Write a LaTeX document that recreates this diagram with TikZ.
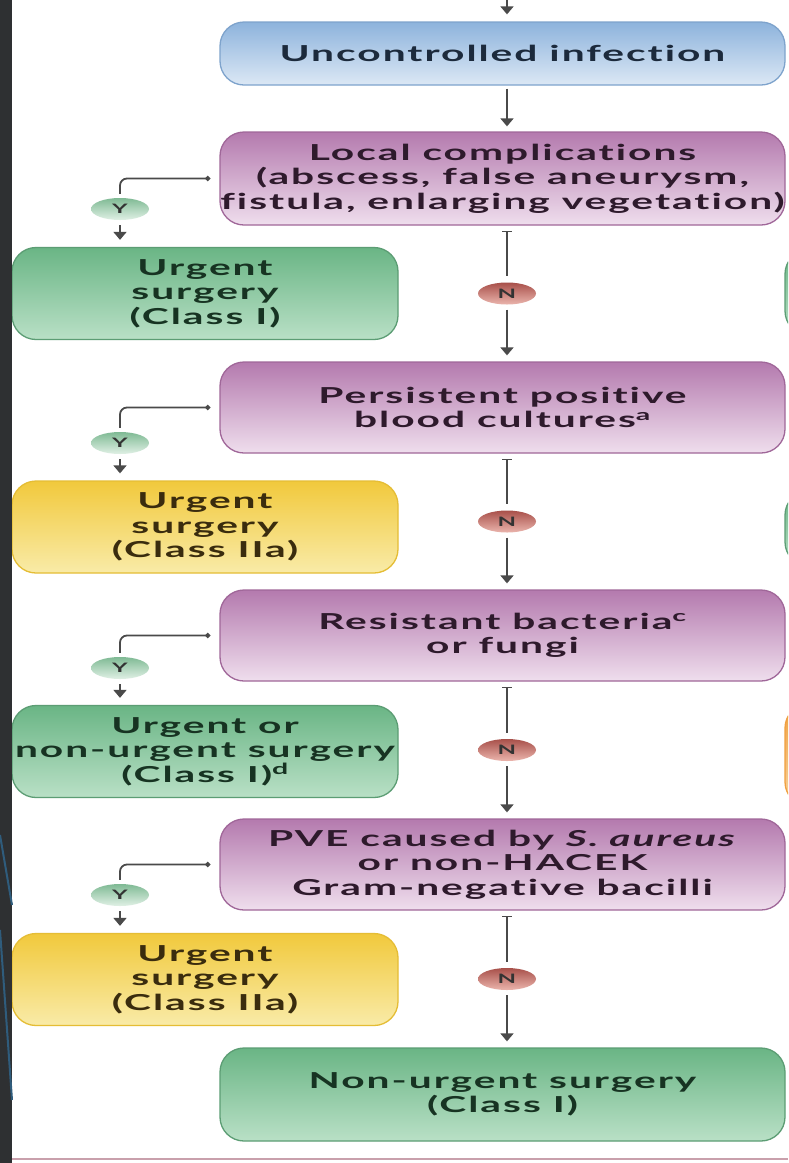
\documentclass[tikz,border=0pt]{standalone}
\usepackage{fontspec}
\setmainfont[FakeStretch=1.85, LetterSpace=9, Ligatures=NoCommon]{Lato}
\usetikzlibrary{arrows.meta,calc,shapes.geometric}

\definecolor{bandgrey}{HTML}{2E3032}
\definecolor{stripeblue}{HTML}{2F5C7C}
\definecolor{linkgrey}{HTML}{4A4A4A}
\definecolor{rulepink}{HTML}{C9A0AC}
% box fills: top, bottom, edge, text
\definecolor{blueT}{HTML}{8DB3DC}\definecolor{blueB}{HTML}{DCE8F5}
\definecolor{blueE}{HTML}{7EA3CC}\definecolor{blueX}{HTML}{1C2A3C}
\definecolor{purT}{HTML}{B47AAE}\definecolor{purB}{HTML}{EFDEED}
\definecolor{purE}{HTML}{A06799}\definecolor{purX}{HTML}{2E1A2C}
\definecolor{grnT}{HTML}{6AB585}\definecolor{grnB}{HTML}{B9E0C6}
\definecolor{grnE}{HTML}{5C9D74}\definecolor{grnX}{HTML}{173322}
\definecolor{yelT}{HTML}{F1C93C}\definecolor{yelB}{HTML}{F9EBA8}
\definecolor{yelE}{HTML}{E5BD35}\definecolor{yelX}{HTML}{3A2C0E}
\definecolor{orgT}{HTML}{F0A040}\definecolor{orgB}{HTML}{F8D4A0}
\definecolor{ynT}{HTML}{7FBA94}\definecolor{ynB}{HTML}{E0F0E5}
\definecolor{noT}{HTML}{A8504A}\definecolor{noB}{HTML}{EBB5AD}

\newcommand{\cardfont}{\fontsize{22}{24.5}\selectfont\bfseries}

\tikzset{
  card/.style={rounded corners=24pt, line width=1.3pt, align=center,
    inner sep=0pt, font=\cardfont},
  rcol/.style={card, minimum width=565pt},
  lcol/.style={card, minimum width=386pt, minimum height=92pt},
  bluefill/.style={top color=blueT, bottom color=blueB, draw=blueE, text=blueX},
  purfill/.style={top color=purT, bottom color=purB, draw=purE, text=purX},
  grnfill/.style={top color=grnT, bottom color=grnB, draw=grnE, text=grnX},
  yelfill/.style={top color=yelT, bottom color=yelB, draw=yelE, text=yelX},
  badge/.style={ellipse, minimum width=58pt, minimum height=22pt, inner sep=0pt,
    font=\fontsize{13}{13}\selectfont\bfseries, text=black!80},
  yesbadge/.style={badge, top color=ynT, bottom color=ynB},
  nobadge/.style={badge, top color=noT, bottom color=noB},
  link/.style={draw=linkgrey, line width=1.8pt},
  tip/.style={-{Triangle[width=13pt,length=8pt]}},
  bartip/.style={{Bar[width=10pt,line width=1.2pt]}-},
}

\begin{document}
\begin{tikzpicture}[x=1pt,y=-1pt]
\useasboundingbox (0,0) rectangle (788,1163);
\clip (0,0) rectangle (788,1163);
\fill[white] (0,0) rectangle (788,1163);

% spine of the main column and entry point
\coordinate (spine) at (507,0);
\coordinate (entry) at (507,-10);

% main column
\node[rcol, bluefill, minimum height=63pt] (unc) at (502.5,53.5) {Uncontrolled infection};
\node[rcol, purfill, minimum height=93pt] (loc) at (502.5,178.5)
  {Local complications\\(abscess, false aneurysm,\\fistula, enlarging vegetation)};
\node[rcol, purfill, minimum height=91pt] (per) at (502.5,407.5)
  {Persistent positive\\blood cultures\textsuperscript{a}};
\node[rcol, purfill, minimum height=91pt] (res) at (502.5,635.5)
  {Resistant bacteria\textsuperscript{c}\\or fungi};
\node[rcol, purfill, minimum height=91pt] (pve) at (502.5,864.5)
  {PVE caused by \textit{S. aureus}\\or non-HACEK\\Gram-negative bacilli};
\node[rcol, grnfill, minimum height=93pt] (non) at (502.5,1094.5)
  {Non-urgent surgery\\(Class I)};

% outcome boxes on the left
\node[lcol, grnfill] (s1) at (205,293.5) {Urgent\\surgery\\(Class I)};
\node[lcol, yelfill] (s2) at (205,527) {Urgent\\surgery\\(Class IIa)};
\node[lcol, grnfill] (s3) at (205,751.5) {Urgent or\\non-urgent surgery\\(Class I)\textsuperscript{d}};
\node[lcol, yelfill] (s4) at (205,979.5) {Urgent\\surgery\\(Class IIa)};

% edges of the neighbouring column
\node[card, grnfill, minimum width=200pt, minimum height=85pt] (r1) at (885,292.5) {};
\node[card, grnfill, minimum width=200pt, minimum height=75pt] (r2) at (885,528.5) {};
\node[card, top color=orgT, bottom color=orgB, draw=orgT, minimum width=200pt,
  minimum height=102pt] (r3) at (885,755) {};

% yes badges
\node[yesbadge] (y1) at (120,209) {Y};
\node[yesbadge] (y2) at (120,443) {Y};
\node[yesbadge] (y3) at (120,668) {Y};
\node[yesbadge] (y4) at (120,895) {Y};

% no badges, halfway between consecutive questions
\node[nobadge] (n1) at ($(loc.south -| spine)!0.5!(per.north -| spine)$) {N};
\node[nobadge] (n2) at ($(per.south -| spine)!0.5!(res.north -| spine)$) {N};
\node[nobadge] (n3) at ($(res.south -| spine)!0.5!(pve.north -| spine)$) {N};
\node[nobadge] (n4) at ($(pve.south -| spine)!0.5!(non.north -| spine)$) {N};

% main flow
\draw[link, tip] (entry) -- ($(unc.north -| spine)+(0,-7)$);
\draw[link, bartip, tip] ($(unc.south -| spine)+(0,3)$) -- ($(loc.north -| spine)+(0,-5)$);
\foreach \a/\n/\b in {loc/n1/per, per/n2/res, res/n3/pve, pve/n4/non}{
  \draw[link, bartip] ($(\a.south -| spine)+(0,5)$) -- ($(\n.north)+(0,-6)$);
  \draw[link, tip] ($(\n.south)+(0,5)$) -- ($(\b.north -| spine)+(0,-6)$);
}

% yes branches
\foreach \a/\y/\s in {loc/y1/s1, per/y2/s2, res/y3/s3, pve/y4/s4}{
  \draw[link, rounded corners=7pt, {Circle[length=5pt]}-]
    ($(\a.west)+(-9,0)$) -| ($(\y.north)+(0,-4)$);
  \draw[link, tip] ($(\y.south)+(0,5)$) -- ($(\y.south |- \s.north)+(0,-7)$);
}

% page frame
\fill[bandgrey] (0,0) rectangle (12,1163);
\draw[stripeblue, line width=2pt] (0,835) -- (12,905);
\draw[stripeblue, line width=2pt] (0,930) -- (12,1100);
\draw[rulepink, line width=2pt] (12,1159) -- (788,1159);
\end{tikzpicture}
\end{document}
